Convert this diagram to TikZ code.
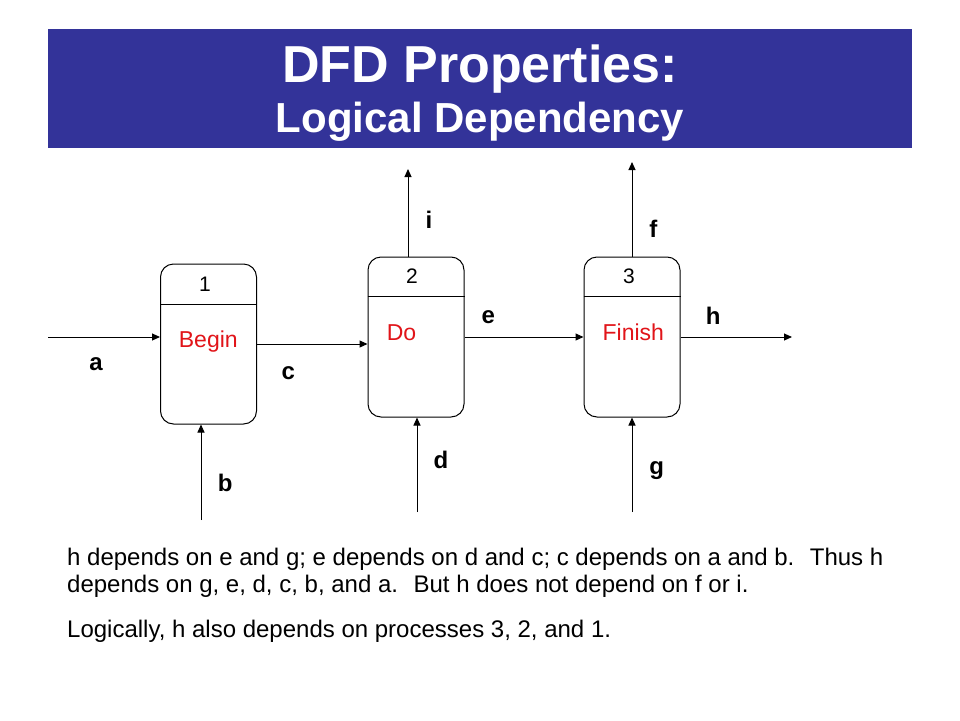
\documentclass[tikz,border=0pt]{standalone}
\usepackage{fontspec}
\setmainfont{Liberation Sans}
\usetikzlibrary{arrows.meta}
\definecolor{hdrblue}{RGB}{51,51,153}
\definecolor{procred}{RGB}{225,20,25}
\begin{document}
\begin{tikzpicture}[x=1pt,y=-1pt,
  proc/.style={draw=black,line width=1pt,rounded corners=13pt,minimum width=96pt,minimum height=160pt,inner sep=0pt},
  divline/.style={draw=black,line width=1pt},
  flow/.style={draw=black,line width=1pt,-{Triangle[length=8pt,width=7pt]}},
  numtxt/.style={anchor=base,inner sep=0pt,font=\fontsize{21}{25}\selectfont},
  nametxt/.style={anchor=base,inner sep=0pt,text=procred,font=\fontsize{23}{27}\selectfont},
  lbl/.style={anchor=base,inner sep=0pt,font=\bfseries\fontsize{24}{28}\selectfont},
  bodytxt/.style={anchor=base west,inner sep=0pt,font=\fontsize{24}{28}\selectfont}]
\useasboundingbox (0,0) rectangle (960,720);
\fill[white] (0,0) rectangle (960,720);
% header
\node[fill=hdrblue,minimum width=864pt,minimum height=119pt,inner sep=0pt,anchor=north west] (header) at (48,29) {};
\node[anchor=base,inner sep=0pt,text=white,font=\bfseries\fontsize{52}{60}\selectfont] (title1) at (480,82) {DFD Properties:};
\node[anchor=base,inner sep=0pt,text=white,font=\bfseries\fontsize{42}{50}\selectfont] (title2) at (480,132) {Logical Dependency};
% processes
\node[proc] (p1) at (208.5,344) {};
\node[proc] (p2) at (416,337) {};
\node[proc] (p3) at (632,337) {};
\draw[divline] (p1.west |- 0,304) -- (p1.east |- 0,304);
\draw[divline] (p2.west |- 0,296) -- (p2.east |- 0,296);
\draw[divline] (p3.west |- 0,296) -- (p3.east |- 0,296);
\node[numtxt] (n1) at (205,291.5) {1};
\node[numtxt] (n2) at (412,283.5) {2};
\node[numtxt] (n3) at (629,283.5) {3};
\node[nametxt] (t1) at (208.3,347.3) {Begin};
\node[nametxt] (t2) at (401.5,340) {Do};
\node[nametxt] (t3) at (633.3,340) {Finish};
% free ends
\coordinate (aS) at (48,337);
\coordinate (bS) at (201,520);
\coordinate (dS) at (417,512);
\coordinate (gS) at (632,512);
\coordinate (iE) at (408,169);
\coordinate (fE) at (632,162);
\coordinate (hE) at (792,337);
% flows
\draw[flow] (aS) -- (aS -| p1.west);
\draw[flow] (p1.east |- 0,344) -- (p2.west |- 0,344);
\draw[flow] (p2.east |- 0,337) -- (p3.west |- 0,337);
\draw[flow] (p3.east |- hE) -- (hE);
\draw[flow] (iE |- p2.north) -- (iE);
\draw[flow] (fE |- p3.north) -- (fE);
\draw[flow] (bS) -- (bS |- p1.south);
\draw[flow] (dS) -- (dS |- p2.south);
\draw[flow] (gS) -- (gS |- p3.south);
% labels
\node[lbl] (la) at (96,370.5) {a};
\node[lbl] (lb) at (225.3,491.5) {b};
\node[lbl] (lc) at (288.3,379) {c};
\node[lbl] (ld) at (441,468.5) {d};
\node[lbl] (le) at (488.3,323) {e};
\node[lbl] (lf) at (653.3,237) {f};
\node[lbl] (lg) at (656.7,474) {g};
\node[lbl] (lh) at (713.3,324.5) {h};
\node[lbl] (li) at (429,228.5) {i};
% body text
\node[bodytxt] (body1) at (67,565) {h depends on e and g; e depends on d and c; c depends on a and b.~ Thus h};
\node[bodytxt] (body2) at (67,592) {depends on g, e, d, c, b, and a.~ But h does not depend on f or i.};
\node[bodytxt] (body3) at (67,637) {Logically, h also depends on processes 3, 2, and 1.};
\end{tikzpicture}
\end{document}
